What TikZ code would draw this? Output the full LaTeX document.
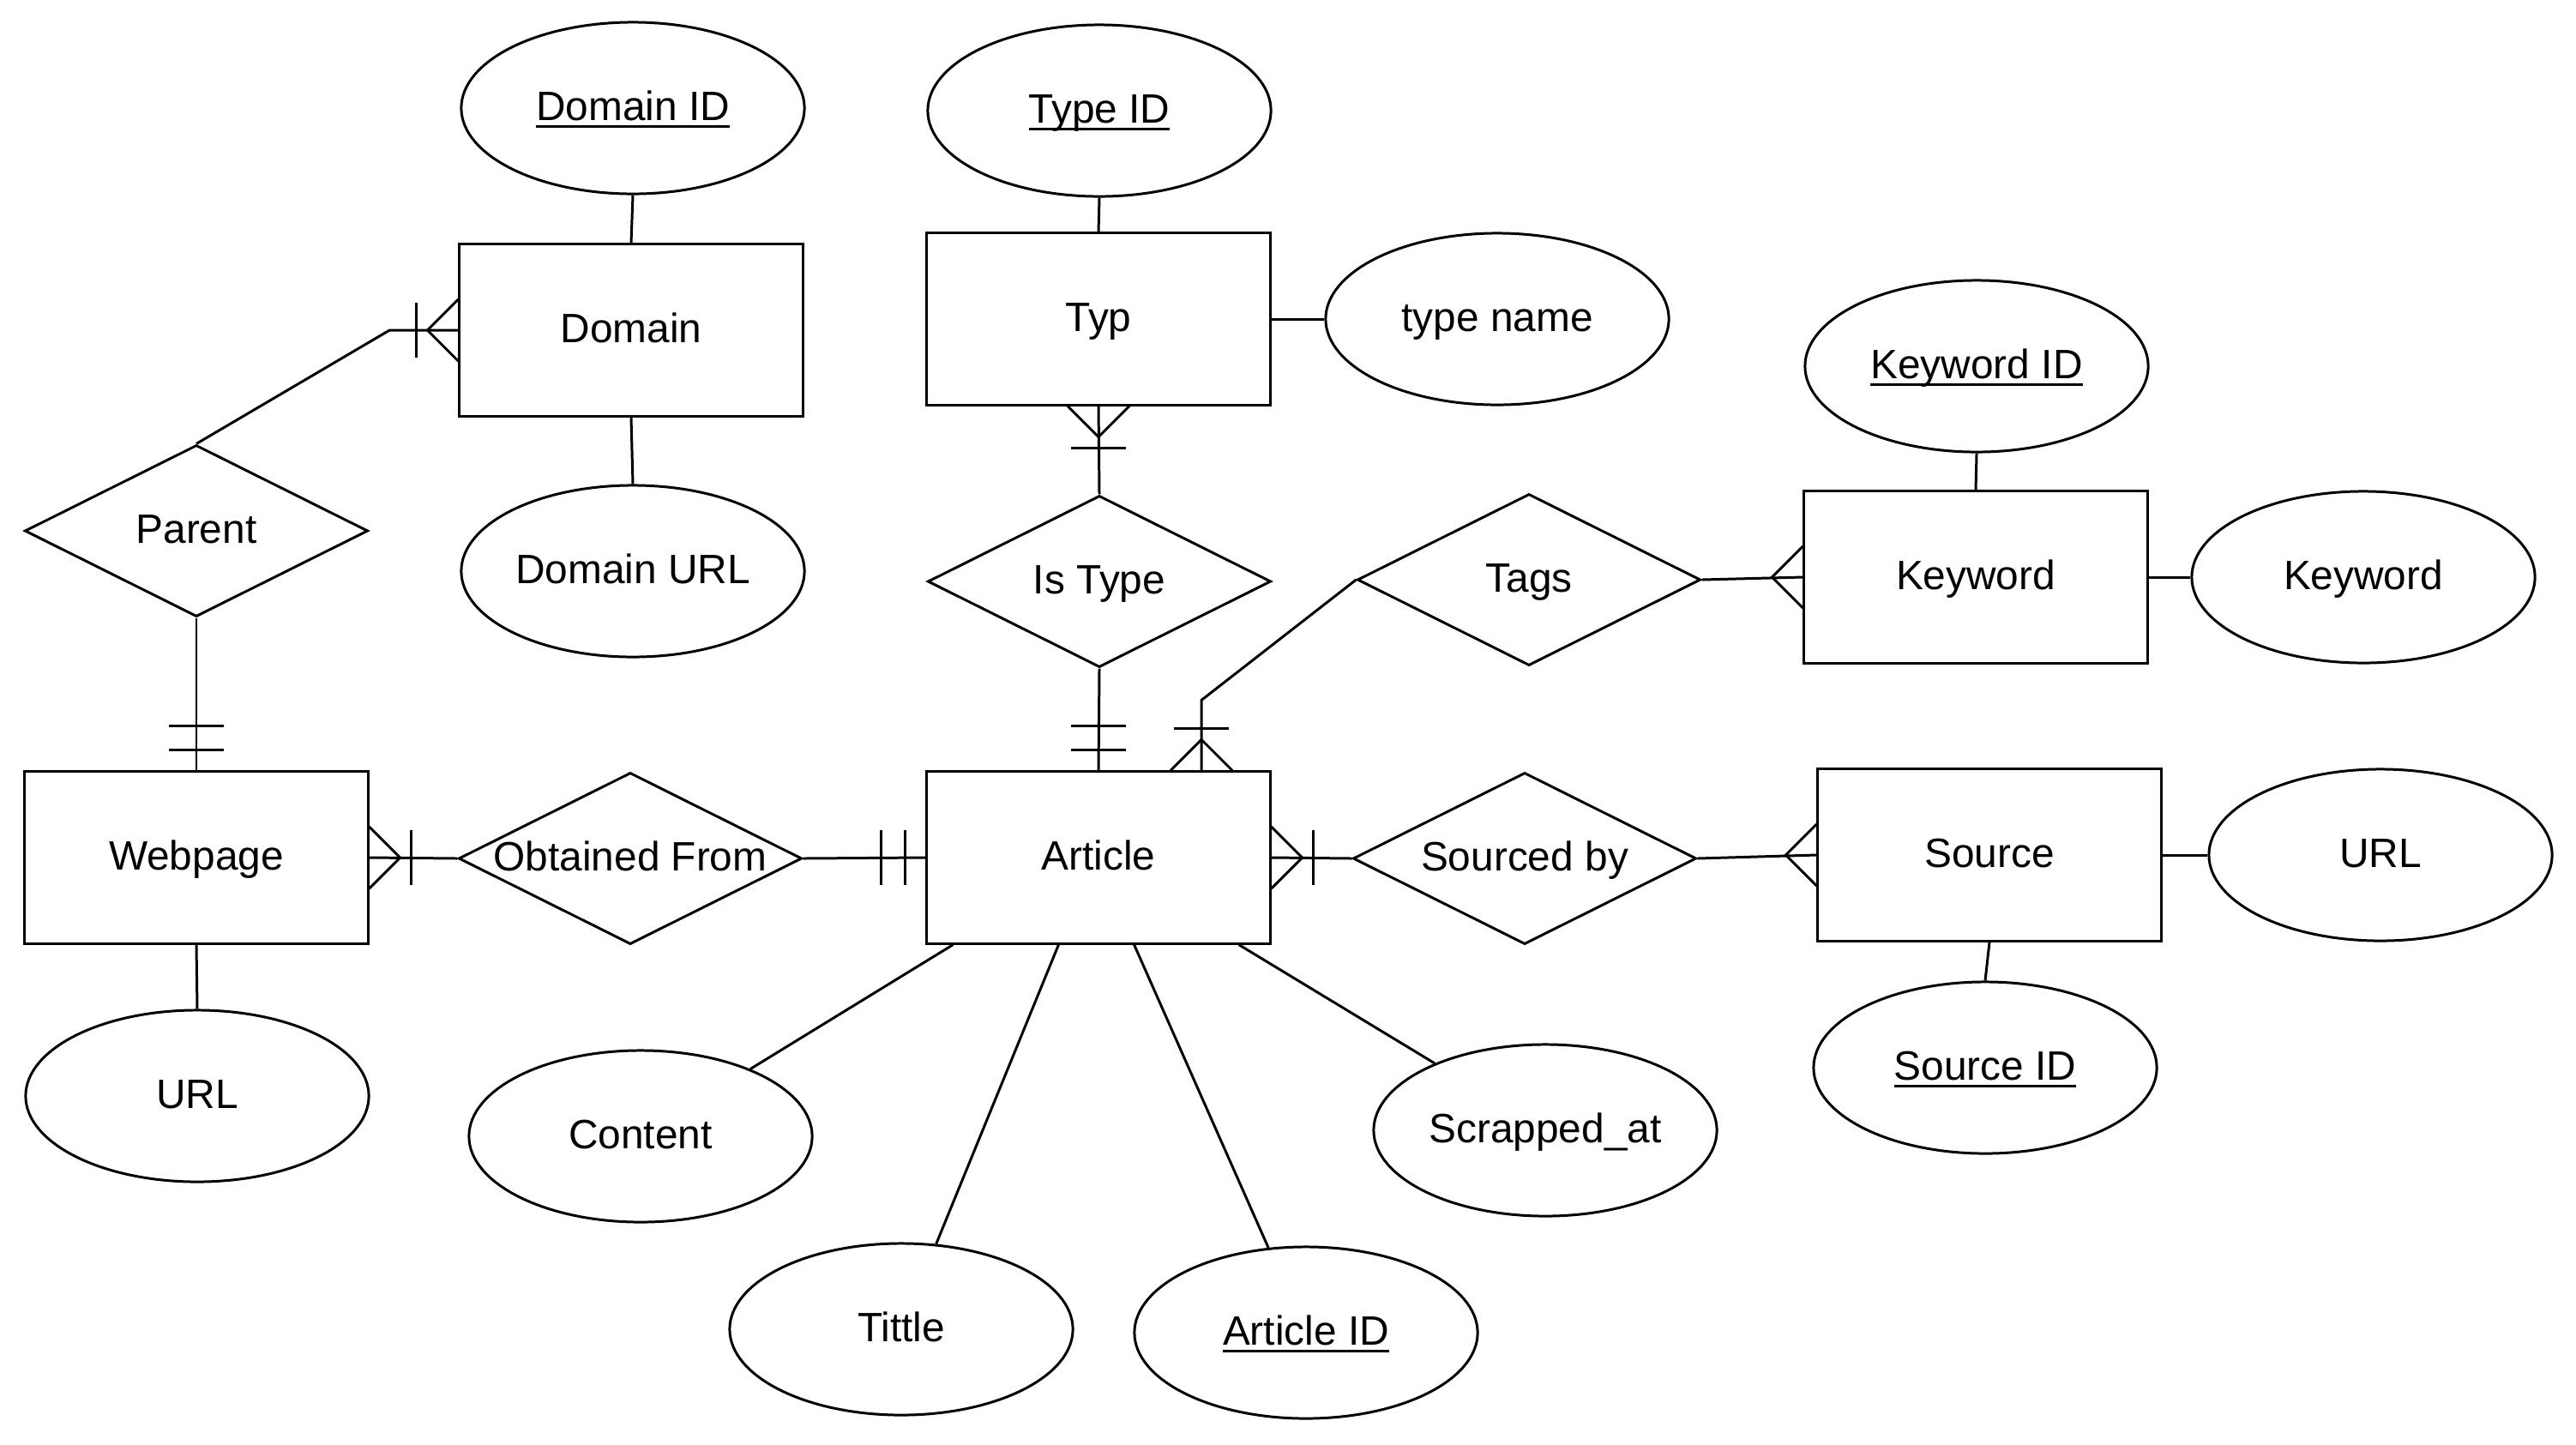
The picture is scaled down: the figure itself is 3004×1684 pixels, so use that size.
\documentclass[tikz,border=0pt]{standalone}
\usepackage{fontspec}
\setmainfont{Liberation Sans}
\usetikzlibrary{shapes.geometric}
\newcommand\ulkey[1]{\setbox0\hbox{#1}\rlap{\rule[-0.19em]{\wd0}{0.065em}}\box0}
\begin{document}
\begin{tikzpicture}[x=0.01cm,y=-0.01cm, line width=0.85pt,
  every node/.style={font=\fontsize{13.6}{16}\selectfont, text height=0.92em, text depth=0.12em},
  ent/.style={draw, rectangle, minimum width=4cm, minimum height=2cm, inner sep=0pt},
  attr/.style={draw, ellipse, minimum width=4cm, minimum height=2cm, inner sep=0pt},
  rel/.style={draw, diamond, aspect=2, minimum width=4cm, minimum height=2cm, inner sep=0pt},
  lbl/.style={inner sep=0pt},
  pics/crow/.style={code={\draw (0,36) -- (36,0) -- (0,-36);}},
  pics/bar/.style={code={\draw (49,32) -- (49,-32);}},
  pics/twobar/.style={code={\draw (24,32) -- (24,-32) (52,32) -- (52,-32);}},
]
\fill[white] (0,0) rectangle (3004,1684);
\useasboundingbox (0,0) rectangle (3004,1684);

% entities
\node[ent] (domain)  at (736,385)  {Domain};
\node[ent] (typ)     at (1281,372) {Typ};
\node[ent] (keyword) at (2304,673) {Keyword};
\node[ent] (webpage) at (229,1000) {Webpage};
\node[ent] (article) at (1281,1000) {Article};
\node[ent] (source)  at (2320,997) {Source};

% attributes
\node[attr] (domainid)    at (738,126)   {\ulkey{Domain ID}};
\node[attr] (domainurl)   at (738,666)   {Domain URL};
\node[attr] (typeid)      at (1282,129)  {\ulkey{Type ID}};
\node[attr] (typename)    at (1746,372)  {type name};
\node[attr] (keywordid)   at (2305,427)  {\ulkey{Keyword ID}};
\node[attr] (keywordattr) at (2756,673)  {Keyword};
\node[attr] (srcurl)      at (2776,997)  {URL};
\node[attr] (sourceid)    at (2315,1245) {\ulkey{Source ID}};
\node[attr] (scrapped)    at (1802,1318) {Scrapped\_at};
\node[attr] (articleid)   at (1523,1554) {\ulkey{Article ID}};
\node[attr] (tittle)      at (1051,1550) {Tittle};
\node[attr] (content)     at (747,1325)  {Content};
\node[attr] (weburl)      at (230,1278)  {URL};

% relationships
\node[rel] (parent)   at (229,619)  {};
\node[lbl] at (parent) {Parent};
\node[rel] (istype)   at (1282,678) {};
\node[lbl] at (istype) {Is Type};
\node[rel] (tags)     at (1783,676) {};
\node[lbl] at (tags) {Tags};
\node[rel] (obtained) at (735,1001) {};
\node[lbl] at (obtained) {Obtained From};
\node[rel] (sourced)  at (1778,1001) {};
\node[lbl] at (sourced) {Sourced by};

% attribute links
\draw (domainid.south) -- (domain.north);
\draw (domain.south) -- (domainurl.north);
\draw (typeid.south) -- (typ.north);
\draw (typ.east) -- (typename.west);
\draw (keywordid.south) -- (keyword.north);
\draw (keyword.east) -- (keywordattr.west);
\draw (source.east) -- (srcurl.west);
\draw (source.south) -- (sourceid.north);
\draw (webpage.south) -- (weburl.north);
\draw ([xshift=0.32cm]article.south west) -- (content);
\draw ([xshift=1.55cm]article.south west) -- (tittle);
\draw ([xshift=2.43cm]article.south west) -- (articleid);
\draw ([xshift=3.65cm]article.south west) -- (scrapped);

% relationship links
\draw (parent.north) -- ([xshift=-0.8cm]domain.west) -- (domain.west);
\path (domain.west) pic[rotate=180]{crow} pic[rotate=180]{bar};

\draw (parent.south) -- (webpage.north);
\path (webpage.north) pic[rotate=90]{twobar};

\draw (istype.north) -- (typ.south);
\path (typ.south) pic[rotate=-90]{crow} pic[rotate=-90]{bar};

\draw (istype.south) -- (article.north);
\path (article.north) pic[rotate=90]{twobar};

\draw (tags.west) -- ([xshift=1.2cm,yshift=0.82cm]article.north) -- ([xshift=1.2cm]article.north);
\path ([xshift=1.2cm]article.north) pic[rotate=90]{crow} pic[rotate=90]{bar};

\draw (tags.east) -- (keyword.west);
\path (keyword.west) pic[rotate=180]{crow};

\draw (webpage.east) -- (obtained.west);
\path (webpage.east) pic{crow} pic{bar};

\draw (obtained.east) -- (article.west);
\path (article.west) pic[rotate=180]{twobar};

\draw (article.east) -- (sourced.west);
\path (article.east) pic{crow} pic{bar};

\draw (sourced.east) -- (source.west);
\path (source.west) pic[rotate=180]{crow};
\end{tikzpicture}
\end{document}
